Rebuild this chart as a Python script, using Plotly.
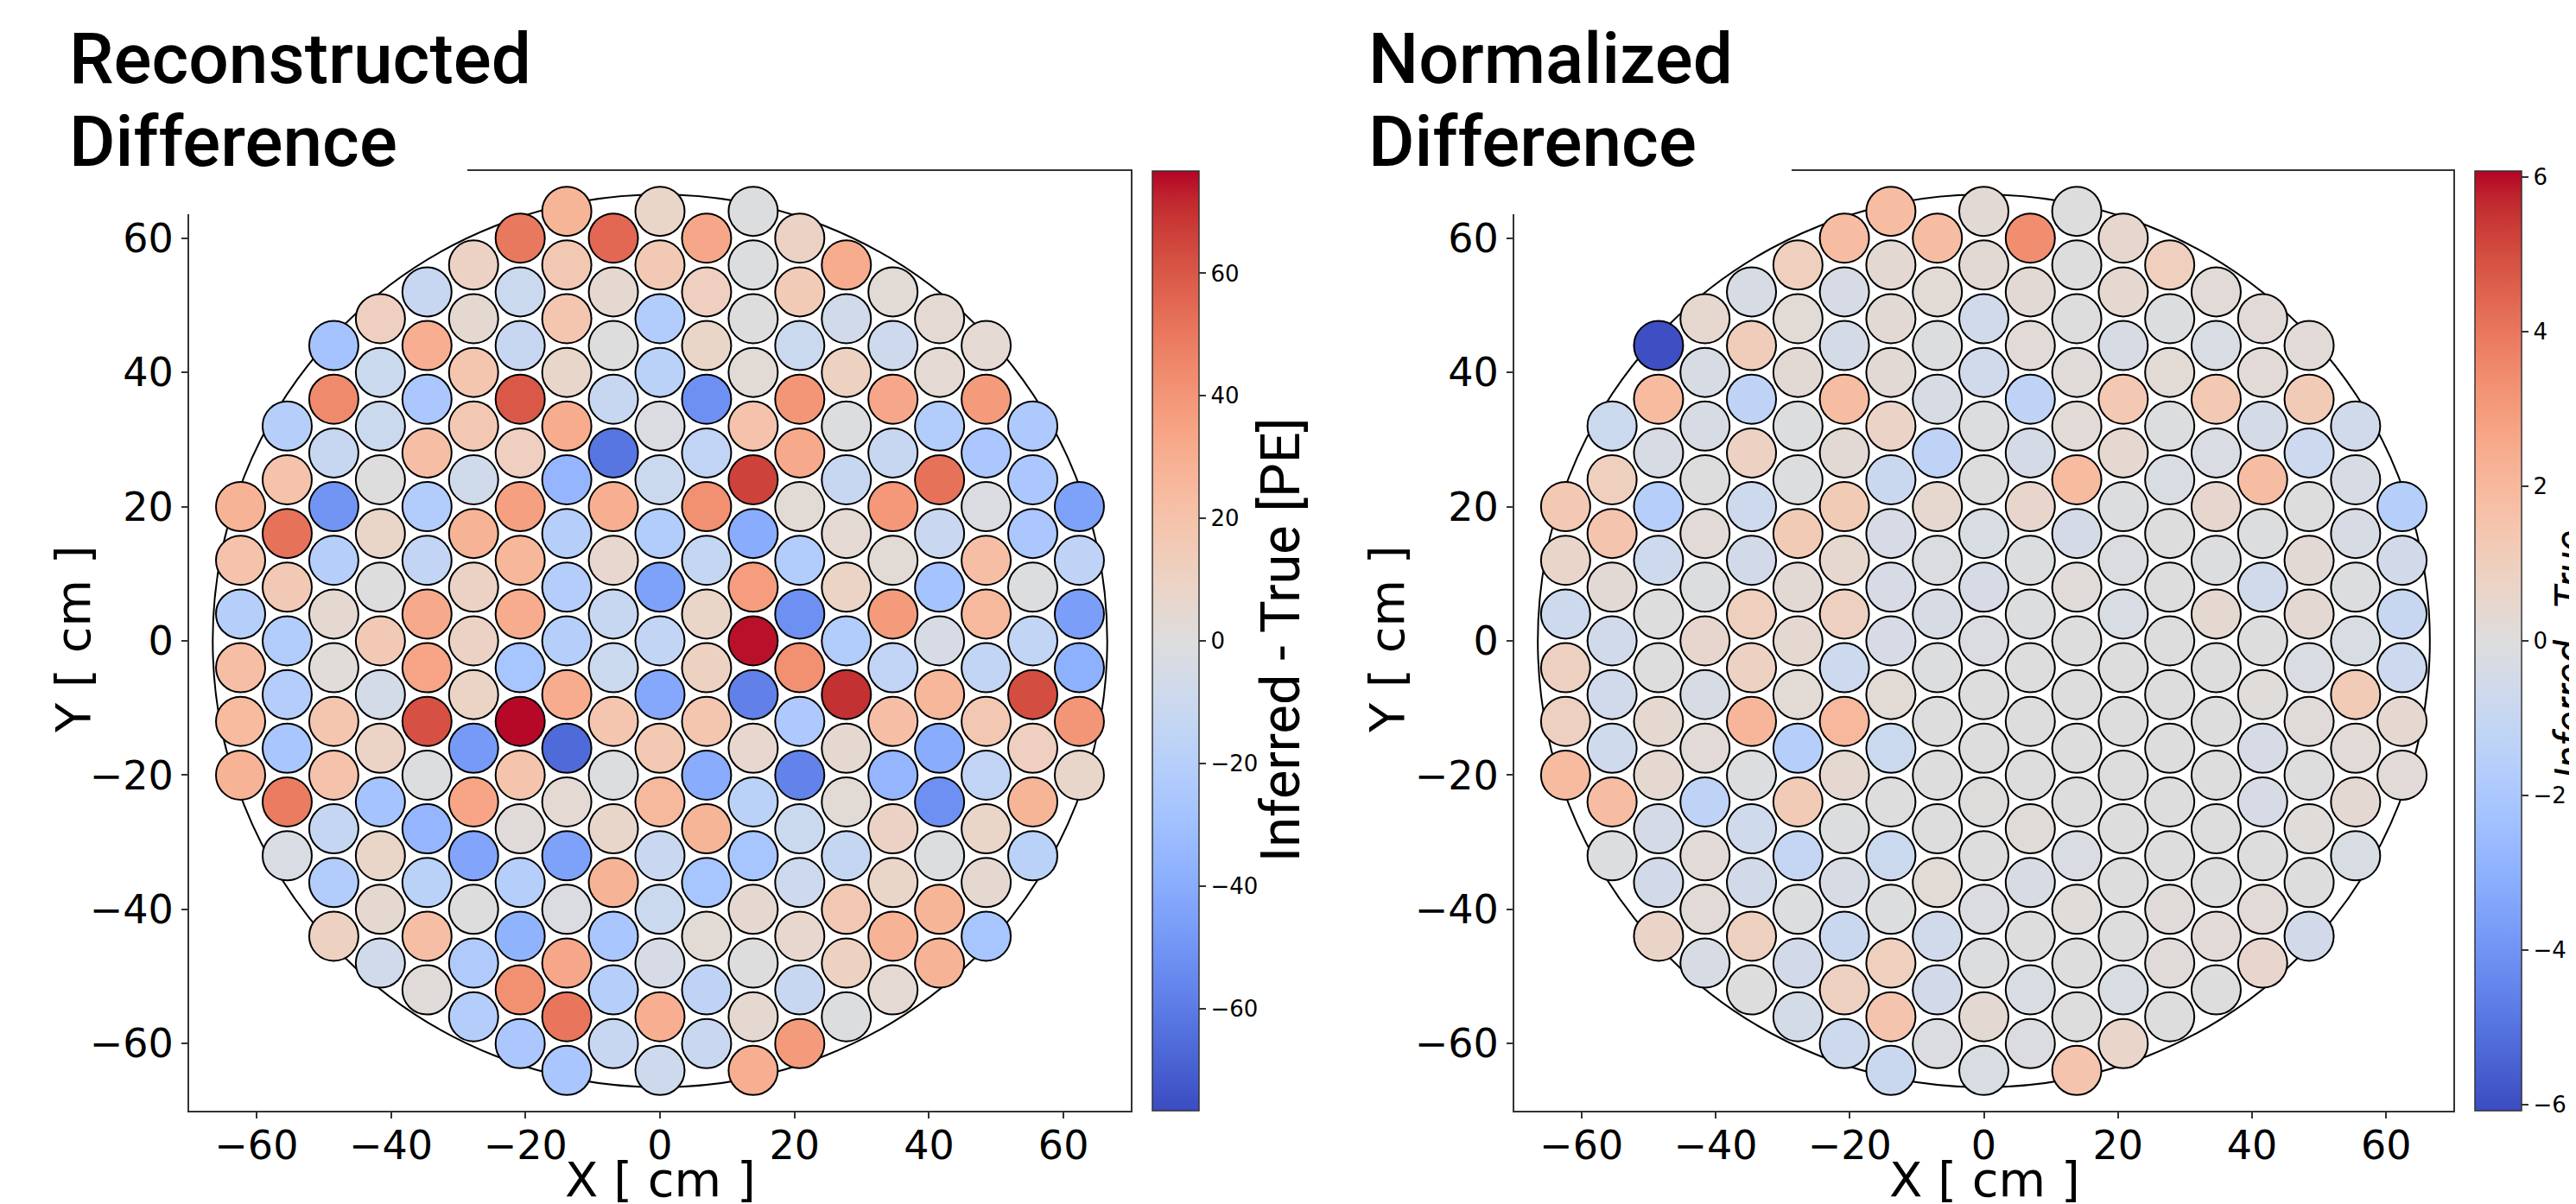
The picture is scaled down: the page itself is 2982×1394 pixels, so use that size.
import numpy as np
import plotly.graph_objects as go

W, H = 2982, 1394

# ---------------- data ----------------
# hex-grid columns of PMTs, column index k -> x = k * 6.93 cm; values listed top -> bottom
column_index = list(range(-9, 10))

# Reconstructed difference: Inferred - True [PE]
recon_cm9 = [28, 20, -20, 22, 24, 28]
recon_cm8 = [-20, 20, 52, 16, -22, -21, -26, 49, -3]
recon_cm7 = [-28, 44, -12, -50, -20, 5, 1, 18, 20, -13, -22, 11]
recon_cm6 = [12, -10, -10, 0, 8, 0, 16, -6, 9, -28, 8, 5, -7]
recon_cm5 = [-12, 30, -25, 22, -22, -14, 32, 34, 62, -1, -35, -18, 22, 2]
recon_cm4 = [10, 5, 18, 17, -8, 28, 10, 10, 9, -48, 34, -43, 0, -23, -21]
recon_cm3 = [50, -10, -12, 60, 12, 36, 26, 31, -27, 76, 19, 2, -20, -37, 42, -25]
recon_cm2 = [27, 17, 18, 7, 31, -35, -20, -21, -20, 31, -66, 4, -45, -2, 33, 51, -26]
recon_cm1 = [55, 5, 0, -12, -62, 30, 6, -12, -10, 18, -1, 7, 28, -26, -20, -12]
recon_c0 = [8, 16, -22, -18, -2, -10, -22, -45, -14, -42, 17, 25, -11, -10, -4, 30, -9]
recon_c1 = [33, 12, 8, -52, -15, 42, -13, 8, 11, 18, -40, 27, -27, 3, -16, -11]
recon_c2 = [-1, -1, 0, 3, 20, 66, -40, 37, 75, -58, 6, -18, -27, 5, 0, 5, 30]
recon_c3 = [10, 15, -10, 40, 32, 3, -22, -52, 42, -24, -57, -10, -9, 6, -12, 38]
recon_c4 = [31, -7, 11, -1, -12, 4, 9, -22, 70, 5, 3, -13, 17, 11, -1]
recon_c5 = [3, -9, 33, -12, 39, 3, 38, -15, 22, -35, 10, 8, 28, 4]
recon_c6 = [4, 4, -22, 52, -11, -28, -4, 26, -40, -52, -1, 27, 28]
recon_c7 = [4, 38, -25, -2, 22, 25, -14, 17, -15, 8, 5, -27]
recon_c8 = [-24, -25, -25, -1, -14, 63, 12, 27, -18]
recon_c9 = [-45, -16, -46, -38, 40, 7]

# Normalized difference
norm_cm9 = [1.3, 0.6, -0.7, 0.9, 0.9, 1.9]
norm_cm8 = [-0.8, 1.0, 1.5, 0.3, -0.6, -0.6, -0.65, 1.8, -0.05]
norm_cm7 = [-6.0, 1.9, -0.3, -1.65, -0.7, 0, 0, 0.4, 0.4, -0.4, -0.5, 0.65]
norm_cm6 = [0.45, -0.3, -0.3, 0, 0.2, -0.05, 0.5, -0.3, 0.2, -1.3, 0.2, 0.2, -0.3]
norm_cm5 = [-0.3, 1.1, -1.3, 0.8, -0.7, -0.5, 1.0, 0.8, 2.1, -0.05, -0.65, -0.5, 0.9, 0]
norm_cm4 = [1.0, 0.25, 0.3, -0.05, -0.05, 1.2, 0.3, 0.4, 0.25, -1.6, 1.2, -1.05, -0.05, -0.5, -0.45]
norm_cm3 = [1.8, -0.35, -0.4, 1.8, 0.3, 1.2, 0.45, 0.9, -0.75, 2.0, 0.4, -0.05, -0.3, -0.85, 0.9, -0.7]
norm_cm2 = [1.8, 0.35, 0.3, 0.3, 0.7, -0.85, -0.35, -0.35, -0.35, 0.25, -0.8, 0, -0.8, -0.05, 1.0, 1.5, -0.85]
norm_cm1 = [1.8, 0.25, -0.05, -0.3, -1.3, 0.45, -0.1, -0.3, -0.05, 0, 0, 0, 0.25, -0.55, -0.5, -0.1]
norm_c0 = [0.3, 0.3, -0.55, -0.55, -0.05, 0, -0.25, -0.35, -0.1, 0, 0, 0.05, 0, -0.15, -0.05, 0.35, -0.25]
norm_c1 = [3.4, 0.3, 0.2, -1.3, -0.4, 0.55, -0.05, -0.05, 0, 0, 0, 0.15, -0.3, 0, -0.25, -0.1]
norm_c2 = [0, 0, 0, 0.15, 0.2, 1.9, -0.4, 0.15, 0, 0, 0, 0, -0.2, 0.1, 0, 0, 1.5]
norm_c3 = [0.5, 0.4, -0.3, 1.3, 0.4, -0.05, -0.1, -0.25, 0, 0, 0, 0, 0, 0, -0.25, 0.6]
norm_c4 = [1.0, -0.05, 0.25, -0.05, -0.25, 0, 0, 0, 0, 0, 0, 0, 0.15, 0.15, 0]
norm_c5 = [0.2, -0.25, 1.3, -0.2, 0.5, -0.05, 0.4, 0, 0, 0, 0, 0, 0.2, 0]
norm_c6 = [0.2, 0.2, -0.4, 1.8, -0.05, -0.6, 0, 0.1, -0.35, -0.35, 0, 0.2, 0.55]
norm_c7 = [0.2, 1.2, -0.75, 0, 0.3, 0.35, -0.2, 0.15, 0, 0.1, 0, -0.5]
norm_c8 = [-0.6, -0.3, -0.3, -0.05, -0.25, 1.2, 0.2, 0.35, -0.25]
norm_c9 = [-1.6, -0.5, -0.95, -0.75, 0.4, 0.2]

recon_columns = [recon_cm9, recon_cm8, recon_cm7, recon_cm6, recon_cm5, recon_cm4, recon_cm3,
                 recon_cm2, recon_cm1, recon_c0, recon_c1, recon_c2, recon_c3, recon_c4,
                 recon_c5, recon_c6, recon_c7, recon_c8, recon_c9]
norm_columns = [norm_cm9, norm_cm8, norm_cm7, norm_cm6, norm_cm5, norm_cm4, norm_cm3,
                norm_cm2, norm_cm1, norm_c0, norm_c1, norm_c2, norm_c3, norm_c4,
                norm_c5, norm_c6, norm_c7, norm_c8, norm_c9]

recon_ticks = [-60, -40, -20, 0, 20, 40, 60]
norm_ticks = [-6, -4, -2, 0, 2, 4, 6]
axis_ticks = [-60, -40, -20, 0, 20, 40, 60]
recon_limit = 76.7
norm_limit = 6.08
detector_radius = 66.5

# ---------------- geometry ----------------
PITCH = 8.0
COL_DX = PITCH * np.sqrt(3) / 2


def build(columns):
    xs, ys, vs = [], [], []
    for k, vals in zip(column_index, columns):
        n = len(vals)
        for i, v in enumerate(vals):
            xs.append(k * COL_DX)
            ys.append(PITCH * ((n - 1) / 2 - i))
            vs.append(v)
    return xs, ys, vs


coolwarm_rgb = [
    (59, 76, 192), (68, 90, 204), (77, 104, 215), (87, 117, 225), (98, 130, 234),
    (108, 142, 241), (119, 154, 247), (130, 165, 251), (141, 176, 254), (152, 185, 255),
    (163, 194, 255), (174, 201, 253), (184, 208, 249), (194, 213, 244), (204, 217, 238),
    (213, 219, 230), (221, 221, 221), (229, 216, 209), (236, 211, 197), (241, 204, 185),
    (245, 196, 173), (247, 187, 160), (247, 177, 148), (247, 166, 135), (244, 154, 123),
    (241, 141, 111), (236, 127, 99), (229, 112, 88), (222, 96, 77), (213, 80, 66),
    (203, 62, 56), (192, 40, 47), (180, 4, 38)]
coolwarm = [[i / (len(coolwarm_rgb) - 1), "rgb(%d,%d,%d)" % c] for i, c in enumerate(coolwarm_rgb)]


def px_x(v):
    return v / W


def px_y(v):
    return 1 - v / H


TICK_FONT = dict(family="DejaVu Sans", size=46, color="black")
CB_FONT = dict(family="DejaVu Sans", size=26, color="black")
LINE_COL = "#333333"

fig = go.Figure()

panels = [
    dict(cols=recon_columns, lim=recon_limit, ticks=recon_ticks, xa="x", ya="y", cbx=1326),
    dict(cols=norm_columns, lim=norm_limit, ticks=norm_ticks, xa="x2", ya="y2", cbx=2857),
]
for p in panels:
    xs, ys, vs = build(p["cols"])
    fig.add_trace(go.Scatter(
        x=xs, y=ys, mode="markers", xaxis=p["xa"], yaxis=p["ya"],
        showlegend=False, hoverinfo="skip",
        marker=dict(
            size=57, color=vs, colorscale=coolwarm, cmin=-p["lim"], cmax=p["lim"],
            line=dict(color="black", width=2),
            colorbar=dict(
                x=px_x(p["cbx"]), xanchor="left", xpad=0,
                y=px_y(734), yanchor="middle", ypad=0,
                len=1088, lenmode="pixels", thickness=54, thicknessmode="pixels",
                outlinewidth=1.5, outlinecolor=LINE_COL,
                tickvals=p["ticks"], ticks="outside", ticklen=8, tickwidth=1.5,
                tickcolor=LINE_COL, tickfont=CB_FONT,
            ),
        ),
    ))

axis_common = dict(
    range=[-70, 70], tickvals=axis_ticks, showline=True, mirror=True,
    linecolor=LINE_COL, linewidth=2, ticks="outside", ticklen=7, tickwidth=2,
    tickcolor=LINE_COL, showgrid=False, zeroline=False, tickfont=TICK_FONT,
)
x_common = dict(axis_common, ticklabelstandoff=-8)

fig.update_layout(
    width=W, height=H, margin=dict(l=0, r=0, t=0, b=0),
    paper_bgcolor="white", plot_bgcolor="white",
    xaxis=dict(domain=[px_x(211), px_x(1301)], anchor="y", **x_common),
    yaxis=dict(domain=[px_y(1278), px_y(190)], anchor="x", **axis_common),
    xaxis2=dict(domain=[px_x(1745), px_x(2832)], anchor="y2", **x_common),
    yaxis2=dict(domain=[px_y(1278), px_y(190)], anchor="x2", **axis_common),
)

shapes = []
for xa, ya in [("x", "y"), ("x2", "y2")]:
    shapes.append(dict(type="circle", xref=xa, yref=ya,
                       x0=-detector_radius, y0=-detector_radius,
                       x1=detector_radius, y1=detector_radius,
                       line=dict(color="black", width=2), layer="below"))
# white boxes behind the panel titles (they cover part of the frame)
for x0, x1 in [(150, 533), (1690, 2066)]:
    shapes.append(dict(type="rect", xref="paper", yref="paper",
                       x0=px_x(x0), x1=px_x(x1), y0=px_y(240), y1=px_y(150),
                       fillcolor="white", line=dict(width=0), layer="above"))
fig.update_layout(shapes=shapes)

TITLE_FONT = dict(family="Roboto", size=82, color="black", weight=500)
LABEL_FONT = dict(family="DejaVu Sans", size=56, color="black")
ann = []
for x, t1 in [(70, "Reconstructed"), (1574, "Normalized")]:
    ann.append(dict(text=t1, x=px_x(x), y=px_y(60), xref="paper", yref="paper",
                    xanchor="left", yanchor="middle", showarrow=False, font=TITLE_FONT))
    ann.append(dict(text="Difference", x=px_x(x), y=px_y(156), xref="paper", yref="paper",
                    xanchor="left", yanchor="middle", showarrow=False, font=TITLE_FONT))
for cx in [756, 2289]:
    ann.append(dict(text="X [ cm ]", x=px_x(cx), y=px_y(1357), xref="paper", yref="paper",
                    xanchor="center", yanchor="middle", showarrow=False, font=LABEL_FONT))
for cx in [76, 1597]:
    ann.append(dict(text="Y [ cm ]", x=px_x(cx), y=px_y(732), xref="paper", yref="paper",
                    xanchor="center", yanchor="middle", showarrow=False, textangle=-90,
                    font=LABEL_FONT))
ann.append(dict(text="Inferred - True [PE]", x=px_x(1474), y=px_y(733), xref="paper",
                yref="paper", xanchor="center", yanchor="middle", showarrow=False,
                textangle=-90, font=dict(family="Roboto", size=63, color="black")))
ann.append(dict(text="Inferred - True", x=px_x(2967), y=px_y(750), xref="paper",
                yref="paper", xanchor="center", yanchor="middle", showarrow=False,
                textangle=-90, font=dict(family="Roboto", size=48, color="black",
                                         style="italic")))
fig.update_layout(annotations=ann)

fig.write_html("out.html")
